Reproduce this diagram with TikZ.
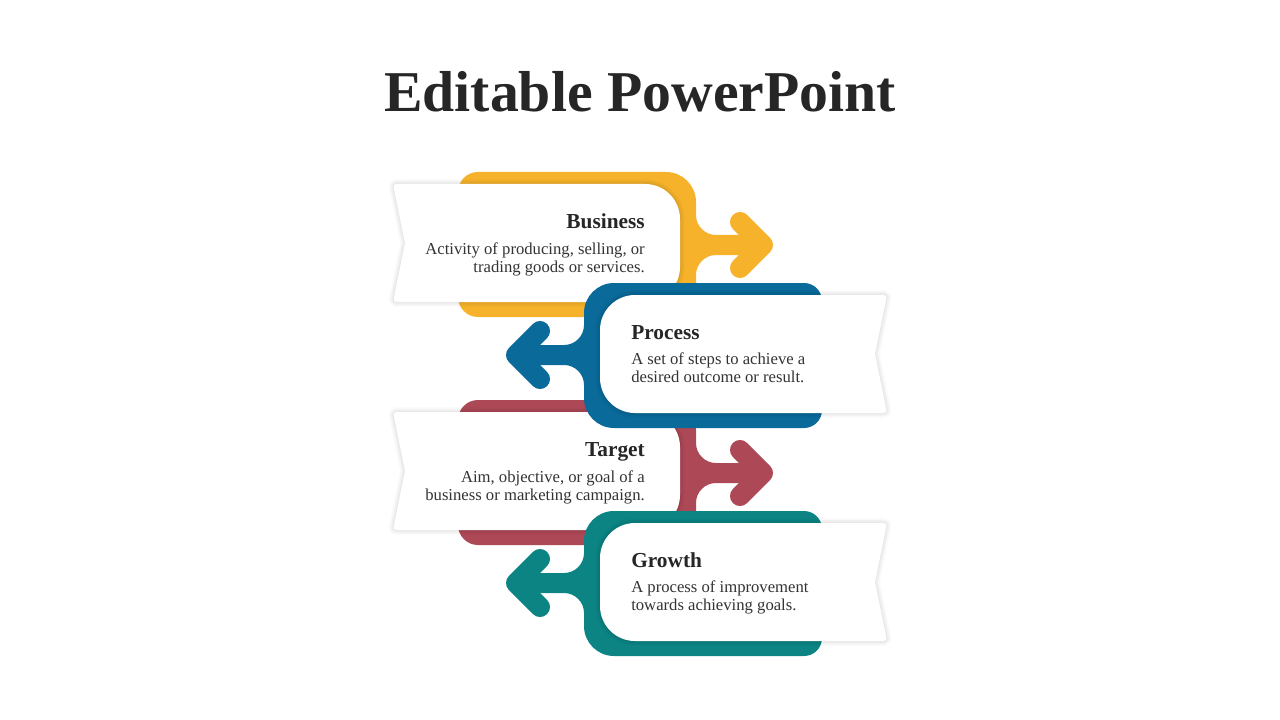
\documentclass[tikz,border=0pt]{standalone}
\usepackage{fontspec}
\setmainfont{Liberation Serif}
\definecolor{cy}{HTML}{F5B22A}
\definecolor{cb}{HTML}{0A6A9A}
\definecolor{cr}{HTML}{AD4857}
\definecolor{ct}{HTML}{0C8484}
\definecolor{txthead}{HTML}{262626}
\definecolor{txtbody}{HTML}{333333}
\tikzset{
  haloA/.style={draw=black, draw opacity=0.025, line width=7pt, line join=round},
  haloB/.style={draw=black, draw opacity=0.03, line width=4.5pt, line join=round},
  haloC/.style={draw=black, draw opacity=0.035, line width=2pt, line join=round},
  cardfill/.style={fill=white},
  chev/.style={line width=15pt, line cap=round, line join=round},
  head/.style={font=\fontsize{16pt}{19pt}\selectfont\bfseries, text=txthead, inner sep=0pt},
  body/.style={font=\fontsize{12.5pt}{15pt}\selectfont, text=txtbody, inner sep=0pt},
  titlestyle/.style={font=\fontsize{43.3pt}{50pt}\selectfont\bfseries, text=txthead, inner sep=0pt},
}
\newcommand\myFrameR[1]{\fill[#1] (500,172) -- (666,172) .. controls (682.56,172) and (696,185.44) .. (696,202) -- (696,215) .. controls (696,226.04) and (704.96,235) .. (716,235) -- (760,235) -- (760,255) -- (716,255) .. controls (704.96,255) and (696,263.96) .. (696,275) -- (696,297) .. controls (696,308.04) and (687.04,317) .. (676,317) -- (478,317) .. controls (466.96,317) and (458,308.04) .. (458,297) -- (458,192) .. controls (458,180.96) and (466.96,172) .. (478,172) -- cycle;
\draw[#1,chev] (740,222) -- (763,245) -- (740,268);}
\newcommand\myCardLpath[1]{\path[#1] (440,184) -- (645,184) .. controls (664.32,184) and (680,199.68) .. (680,219) -- (680,267) .. controls (680,286.32) and (664.32,302) .. (645,302) -- (401,302) .. controls (393,302) .. (394.6,294.2) -- (405,243) -- (394.6,191.8) .. controls (393,184) .. (401,184) -- cycle;}
\newcommand\myCardL{\myCardLpath{haloA}\myCardLpath{haloB}\myCardLpath{haloC}\myCardLpath{cardfill}}
\newcommand\myFrameL[1]{\fill[#1] (700,283) -- (804,283) .. controls (813.94,283) and (822,291.06) .. (822,301) -- (822,410) .. controls (822,419.94) and (813.94,428) .. (804,428) -- (614,428) .. controls (597.44,428) and (584,414.56) .. (584,398) -- (584,385) .. controls (584,373.96) and (575.04,365) .. (564,365) -- (525,365) -- (525,345) -- (564,345) .. controls (575.04,345) and (584,336.04) .. (584,325) -- (584,313) .. controls (584,296.44) and (597.44,283) .. (614,283) -- cycle;
\draw[#1,chev] (540,331) -- (516,355) -- (540,379);}
\newcommand\myCardRpath[1]{\path[#1] (700,295) -- (879,295) .. controls (887,295) .. (885.4,302.8) -- (875,354) -- (885.4,405.2) .. controls (887,413) .. (879,413) -- (635,413) .. controls (615.68,413) and (600,397.32) .. (600,378) -- (600,330) .. controls (600,310.68) and (615.68,295) .. (635,295) -- cycle;}
\newcommand\myCardR{\myCardRpath{haloA}\myCardRpath{haloB}\myCardRpath{haloC}\myCardRpath{cardfill}}
\begin{document}
\begin{tikzpicture}[x=0.75pt,y=-0.75pt]
\fill[white] (0,0) rectangle (1280,720);
\useasboundingbox (0,0) rectangle (1280,720);
\node[titlestyle, anchor=base] (title) at (640,112) {Editable PowerPoint};
% yellow
\myFrameR{cy}
\myCardL
% red
\begin{scope}[shift={(0,228)}]
\myFrameR{cr}
\myCardL
\end{scope}
% blue
\myFrameL{cb}
\myCardR
% teal
\begin{scope}[shift={(0,228)}]
\myFrameL{ct}
\myCardR
\end{scope}
% texts
\node[head, anchor=base east] (h1) at (645,228.5) {Business};
\node[body, anchor=base east] (b1a) at (645,254.5) {Activity of producing, selling, or};
\node[body, anchor=base east] (b1b) at (645,272.5) {trading goods or services.};
\node[head, anchor=base west] (h2) at (631,339) {Process};
\node[body, anchor=base west] (b2a) at (631,364.5) {A set of steps to achieve a};
\node[body, anchor=base west] (b2b) at (631,382.5) {desired outcome or result.};
\node[head, anchor=base east] (h3) at (645,456.5) {Target};
\node[body, anchor=base east] (b3a) at (645,482.5) {Aim, objective, or goal of a};
\node[body, anchor=base east] (b3b) at (645,500.5) {business or marketing campaign.};
\node[head, anchor=base west] (h4) at (631,567) {Growth};
\node[body, anchor=base west] (b4a) at (631,592.5) {A process of improvement};
\node[body, anchor=base west] (b4b) at (631,610.5) {towards achieving goals.};
\end{tikzpicture}
\end{document}
